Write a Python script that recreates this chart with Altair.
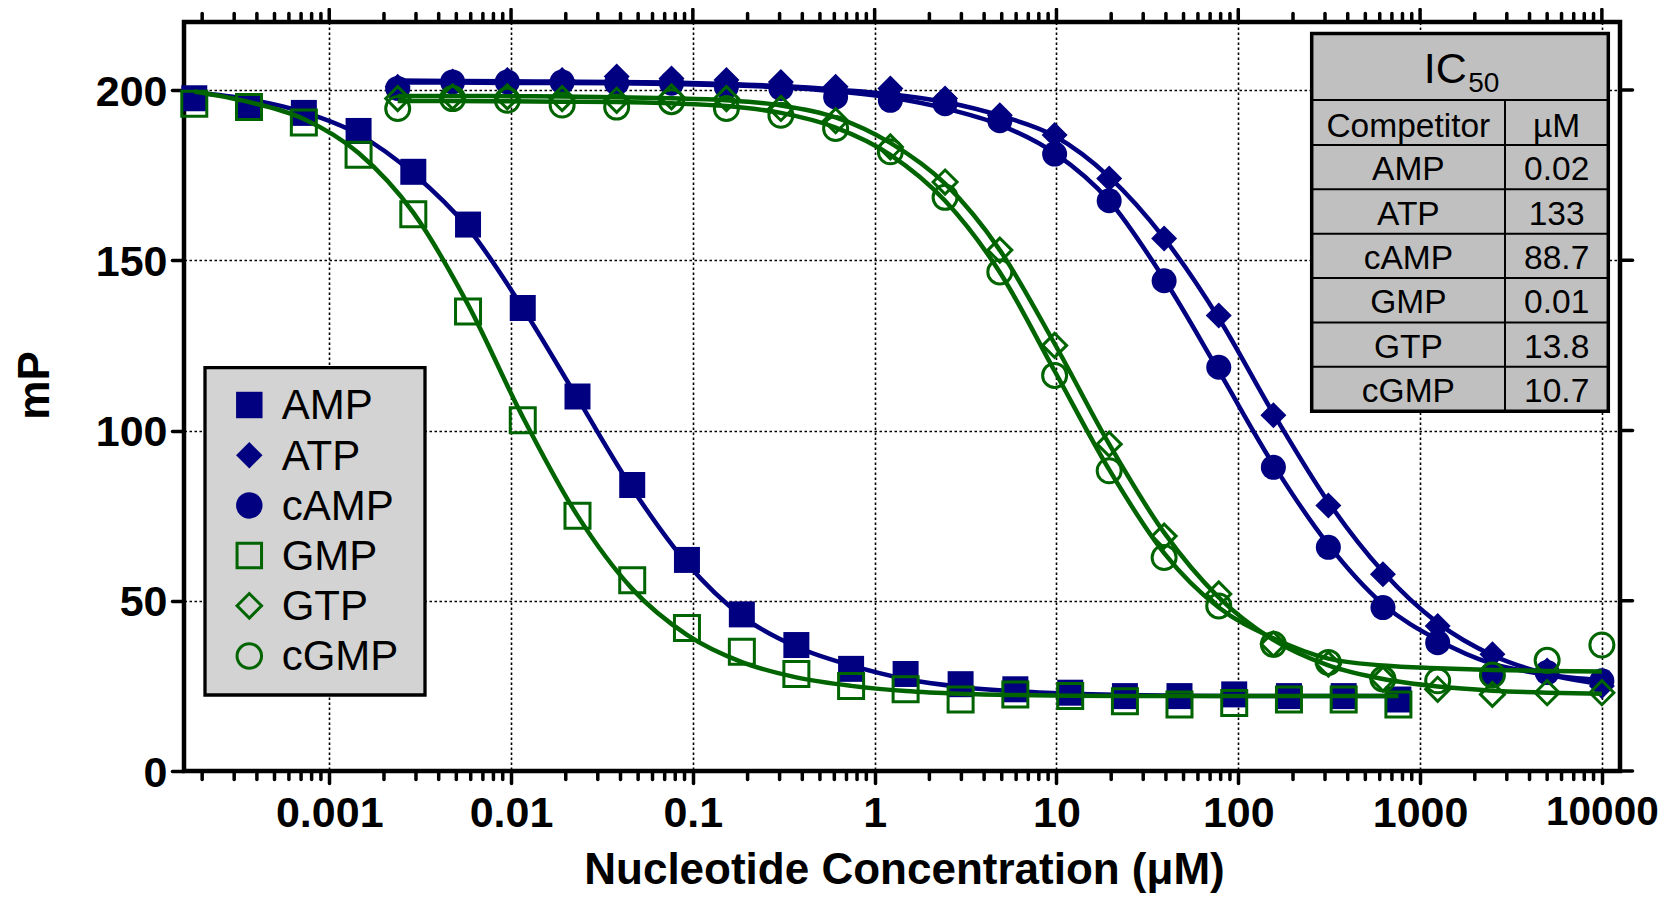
import altair as alt
import pandas as pd

# ---------------- data ----------------
# nucleotide concentrations, µM
conc_amp_gmp = [0.000181, 0.000362, 0.000725, 0.00145, 0.0029, 0.0058, 0.0116, 0.0232,
                0.0464, 0.0928, 0.186, 0.371, 0.742, 1.48, 2.97, 5.94, 11.9, 23.8,
                47.5, 95, 190, 380, 760]
conc_nuc = [0.00238, 0.00477, 0.00954, 0.0191, 0.0381, 0.0763, 0.153, 0.305, 0.61,
            1.22, 2.44, 4.88, 9.77, 19.5, 39.1, 78.1, 156, 313, 625, 1250, 2500, 5000, 10000]

# measured mP
amp_pts = [197.6, 195, 193.3, 188, 176, 160.5, 136, 110, 84, 62, 46, 37, 30, 28.5, 25.5,
           24, 23, 22, 22, 22.5, 22, 22, 21]
gmp_pts = [196, 195, 190.5, 181, 163.5, 135, 103, 75, 56, 42, 35, 28.5, 25, 24, 21,
           22.5, 22, 20.5, 19.5, 20, 21, 21, 19.5]
atp_pts = [201, 202.5, 203, 203, 204, 203.4, 203, 202.4, 201, 200.5, 197.5, 192.6, 186.8,
           174, 156.4, 133.8, 104.5, 78, 57.8, 42.6, 34.3, 29.5, 25]
camp_pts = [200.5, 202.4, 202.4, 202.4, 202, 202, 201, 200.5, 198, 197, 196, 191, 181.2,
            167.5, 144, 118.6, 89.2, 65.7, 48, 37.7, 28.4, 28.9, 26.5]
gtp_pts = [197.5, 198, 198, 197.5, 197, 198, 197.5, 194.6, 191, 183.3, 173, 153, 125, 96,
           69, 52, 37.3, 31.4, 27, 24, 22.5, 23, 23]
cgmp_pts = [194.6, 197.5, 197, 195.6, 195, 196.6, 194.6, 192.6, 188.7, 181.9, 168.5, 146.6,
            116.2, 88.2, 62.7, 48.5, 37.2, 31.9, 27, 26.5, 28.2, 32.5, 37]

# fitted curves at the same concentrations
amp_fit = [199.3, 197.3, 193.5, 187, 175.5, 159.5, 136, 109.5, 83, 61, 45.5, 36.5, 31, 27,
           24.7, 23.4, 22.7, 22.3, 22.1, 22, 22, 22, 22]
gmp_fit = [199.6, 196.5, 191.5, 181.5, 164, 137, 104, 75, 53.5, 40, 32, 27.5, 25, 23.5,
           22.7, 22.3, 22.1, 22, 22, 22, 22, 22, 22]
atp_fit = [202.8, 202.7, 202.6, 202.5, 202.4, 202.2, 201.8, 201.2, 200.2, 198.8, 196.5,
           192.5, 186.5, 174.5, 156.5, 133, 105, 79, 58.5, 43.5, 34, 28.5, 25.5]
camp_fit = [202.2, 202.2, 202.1, 202.1, 202, 201.8, 201.4, 200.8, 199.6, 197.8, 194.6,
            189.8, 181.5, 167.5, 144.5, 117.5, 90, 66.5, 49, 38.5, 31.5, 28.3, 26.7]
gtp_fit = [198.3, 198.3, 198.2, 198.1, 197.9, 197.6, 197, 195.5, 192, 184.5, 172.5, 153,
           125.5, 96, 70, 51, 38.5, 31, 27, 24.8, 23.6, 23, 22.7]
cgmp_fit = [196.8, 196.8, 196.7, 196.6, 196.5, 196.1, 195.3, 193.3, 189, 181, 167.5, 146.5,
            117.5, 88.5, 64, 48, 39, 33, 31, 30.2, 29.7, 29.4, 29.2]

competitors = ["AMP", "ATP", "cAMP", "GMP", "GTP", "cGMP"]
ic50_values = ["0.02", "133", "88.7", "0.01", "13.8", "10.7"]

x_major = [0.001, 0.01, 0.1, 1, 10, 100, 1000, 10000]
x_minor_mult = [2, 3, 4, 5, 6, 7, 8, 9]
x_decades = [0.0001, 0.001, 0.01, 0.1, 1, 10, 100, 1000]
y_major = [0, 50, 100, 150, 200]

# ---------------- styling / layout ----------------
NAVY = "#000080"
GREEN = "#006400"
FONT = "Liberation Sans"
W, H = 1436, 749
XMIN, XMAX = 1.589e-4, 12580

x_scale = alt.Scale(type="log", domain=[XMIN, XMAX])
y_scale = alt.Scale(domain=[0, 220], nice=False, zero=False)

grid_kw = dict(grid=True, gridDash=[2.5, 2.5], gridColor="black", gridWidth=1.6, gridOpacity=1)

x_axis = alt.Axis(values=x_major, format="~f", domain=False, tickSize=12, tickWidth=3.5,
                  tickColor="black", tickCap="round", labelFont=FONT,
                  labelFontSize={"condition": {"test": "datum.value >= 10000", "value": 40.5},
                                 "value": 43},
                  labelFontWeight="bold", labelColor="black", labelPadding=9,
                  labelFlush=False, labelOverlap=False, labelBound=False,
                  title="Nucleotide Concentration (μM)", titleFont=FONT, titleFontSize=44,
                  titleFontWeight="bold", titleColor="black", titleX=720, titleY=112,
                  titleAlign="center", titleBaseline="alphabetic", **grid_kw)
y_axis = alt.Axis(values=y_major, domain=False, tickSize=12, tickWidth=3.5,
                  tickColor="black", tickCap="round", labelFont=FONT, labelFontSize=43,
                  labelFontWeight="bold", labelColor="black", labelPadding=5, labelOffset=2,
                  title="mP", titleFont=FONT, titleFontSize=44, titleFontWeight="bold",
                  titleColor="black", titleAngle=270, titleX=-136, titleY=363,
                  titleAlign="center", titleBaseline="alphabetic", **grid_kw)

X_ENC = alt.X("conc:Q", scale=x_scale, axis=x_axis)
Y_ENC = alt.Y("mP:Q", scale=y_scale, axis=y_axis)

series = [
    ("AMP", conc_amp_gmp, amp_pts, amp_fit, "square", True, NAVY, 676),
    ("ATP", conc_nuc, atp_pts, atp_fit, "diamond", True, NAVY, 676),
    ("cAMP", conc_nuc, camp_pts, camp_fit, "circle", True, NAVY, 625),
    ("GMP", conc_amp_gmp, gmp_pts, gmp_fit, "square", False, GREEN, 625),
    ("GTP", conc_nuc, gtp_pts, gtp_fit, "diamond", False, GREEN, 576),
    ("cGMP", conc_nuc, cgmp_pts, cgmp_fit, "circle", False, GREEN, 576),
]

layers = []
for name, conc, pts, fit, shape, filled, color, size in series:
    df_fit = pd.DataFrame({"conc": conc, "mP": fit})
    df_pts = pd.DataFrame({"conc": conc, "mP": pts})
    line = alt.Chart(df_fit).mark_line(color=color, strokeWidth=4.5,
                                       interpolate="monotone").encode(x=X_ENC, y=Y_ENC)
    if filled:
        pm = alt.Chart(df_pts).mark_point(shape=shape, filled=True, color=color, size=size,
                                          opacity=1, strokeWidth=0)
    else:
        pm = alt.Chart(df_pts).mark_point(shape=shape, filled=False, color=color, size=size,
                                          opacity=1, strokeWidth=3)
    layers += [line, pm.encode(x=X_ENC, y=Y_ENC)]

# ---------------- extra ticks (minor, top, right) ----------------
minor_vals = [m * d for d in x_decades for m in x_minor_mult if XMIN < m * d < XMAX]
df_minor = pd.DataFrame({"conc": minor_vals})
df_major = pd.DataFrame({"conc": x_major})
df_ymajor = pd.DataFrame({"mP": y_major})
tick_kw = dict(color="black", strokeWidth=3.5, strokeCap="round")
layers += [
    alt.Chart(df_minor).mark_rule(**tick_kw).encode(x=X_ENC, y=alt.value(H), y2=alt.value(H + 8.5)),
    alt.Chart(df_minor).mark_rule(**tick_kw).encode(x=X_ENC, y=alt.value(0), y2=alt.value(-8.5)),
    alt.Chart(df_major).mark_rule(**tick_kw).encode(x=X_ENC, y=alt.value(0), y2=alt.value(-12.5)),
    alt.Chart(df_ymajor).mark_rule(**tick_kw).encode(y=Y_ENC, x=alt.value(W), x2=alt.value(W + 12.5)),
]


def px(field):
    return alt.X(f"{field}:Q", scale=None, axis=None)


def py(field):
    return alt.Y(f"{field}:Q", scale=None, axis=None)


# ---------------- legend box ----------------
leg_rows = list(range(len(competitors)))
df_leg = pd.DataFrame({
    "name": competitors,
    "sy": [383 + 50.2 * r for r in leg_rows],
    "ty": [397.3 + 50.2 * r for r in leg_rows],
})
layers.append(
    alt.Chart(pd.DataFrame({"x": [21], "x2": [241], "y": [345.7], "y2": [673]}))
    .mark_rect(fill="#d3d3d3", stroke="black", strokeWidth=3.3)
    .encode(x=px("x"), x2="x2:Q", y=py("y"), y2="y2:Q")
)
for name, conc, pts, fit, shape, filled, color, size in series:
    sub = df_leg[df_leg["name"] == name]
    if filled:
        m = alt.Chart(sub).mark_point(shape=shape, filled=True, color=color, size=700,
                                      opacity=1, strokeWidth=0)
    else:
        m = alt.Chart(sub).mark_point(shape=shape, filled=False, color=color, size=600,
                                      opacity=1, strokeWidth=3)
    layers.append(m.encode(x=alt.value(65.3), y=py("sy")))
layers.append(
    alt.Chart(df_leg).mark_text(align="left", baseline="alphabetic", font=FONT, fontSize=42,
                                color="black")
    .encode(x=alt.value(97.7), y=py("ty"), text="name:N")
)

# ---------------- IC50 table ----------------
TX0, TX1, TXM = 1127.7, 1424.3, 1321
TY0, TYH, TY1 = 11.5, 78, 389.2
row_top = [123 + 44.35 * r for r in range(len(competitors))]
layers.append(
    alt.Chart(pd.DataFrame({"x": [TX0], "x2": [TX1], "y": [TY0], "y2": [TY1]}))
    .mark_rect(fill="#c0c0c0", stroke="black", strokeWidth=3.5)
    .encode(x=px("x"), x2="x2:Q", y=py("y"), y2="y2:Q")
)
rule_rows = [{"x": TX0, "x2": TX1, "y": yy, "y2": yy} for yy in [TYH] + row_top]
rule_rows.append({"x": TXM, "x2": TXM, "y": TYH, "y2": TY1})
layers.append(
    alt.Chart(pd.DataFrame(rule_rows)).mark_rule(color="black", strokeWidth=2)
    .encode(x=px("x"), x2="x2:Q", y=py("y"), y2="y2:Q")
)
layers.append(
    alt.Chart(pd.DataFrame({"t": ["IC"], "x": [1282.7], "y": [61.3]}))
    .mark_text(align="right", baseline="alphabetic", font=FONT, fontSize=43, color="black")
    .encode(x=px("x"), y=py("y"), text="t:N")
)
layers.append(
    alt.Chart(pd.DataFrame({"t": ["50"], "x": [1284.3], "y": [69.7]}))
    .mark_text(align="left", baseline="alphabetic", font=FONT, fontSize=28, color="black")
    .encode(x=px("x"), y=py("y"), text="t:N")
)
cell_rows = [{"t": "Competitor", "x": (TX0 + TXM) / 2, "y": TYH + 36.5},
             {"t": "µM", "x": (TXM + TX1) / 2, "y": TYH + 36.5}]
for r, (c, v) in enumerate(zip(competitors, ic50_values)):
    cell_rows.append({"t": c, "x": (TX0 + TXM) / 2, "y": row_top[r] + 35.2})
    cell_rows.append({"t": v, "x": (TXM + TX1) / 2, "y": row_top[r] + 35.2})
layers.append(
    alt.Chart(pd.DataFrame(cell_rows))
    .mark_text(align="center", baseline="alphabetic", font=FONT, fontSize=33.5, color="black")
    .encode(x=px("x"), y=py("y"), text="t:N")
)

chart = (
    alt.layer(*layers)
    .properties(width=W, height=H, autosize=alt.AutoSizeParams(type="none"),
                padding={"left": 176, "top": 14, "right": 39, "bottom": 122})
    .configure(font=FONT)
    .configure_view(stroke="black", strokeWidth=4.5)
)

chart.save("out.html", embed_options={"renderer": "svg", "actions": False})
